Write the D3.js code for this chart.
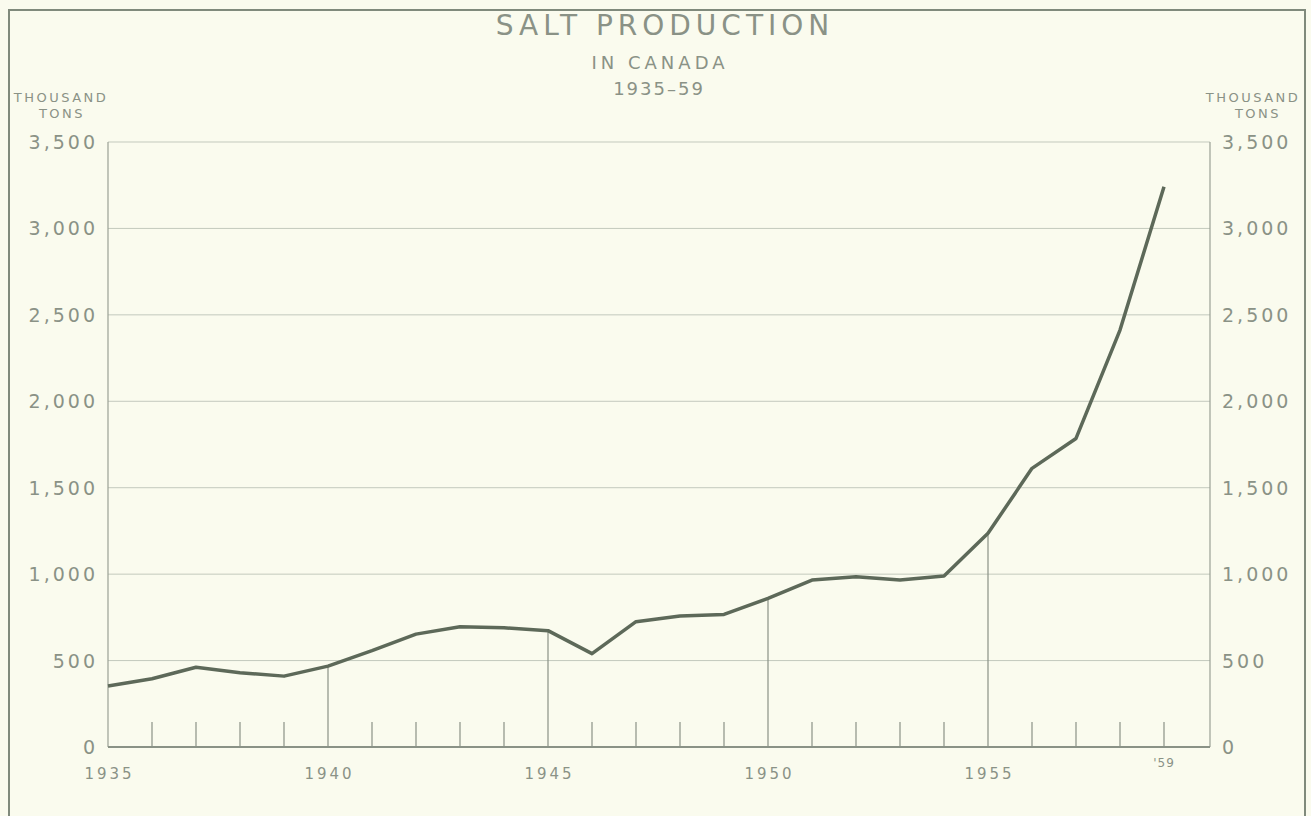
<!DOCTYPE html>
<html>
<head>
<meta charset="utf-8">
<script src="https://cdnjs.cloudflare.com/ajax/libs/d3/7.9.0/d3.min.js"></script>
<style>
  html, body { margin: 0; padding: 0; background: #fafbee; }
  svg { display: block; }
  text { font-family: "DejaVu Sans", sans-serif; fill: #8a9286; }
</style>
</head>
<body>
<div id="chart"></div>
<script>
// ---- Data ----
const years = [1935, 1936, 1937, 1938, 1939, 1940, 1941, 1942, 1943, 1944, 1945, 1946,
  1947, 1948, 1949, 1950, 1951, 1952, 1953, 1954, 1955, 1956, 1957, 1958, 1959];
const production = [353, 395, 461, 430, 410, 468, 557, 653, 696, 690, 673, 540,
  725, 758, 767, 860, 966, 985, 966, 989, 1236, 1612, 1785, 2412, 3241];
const yTicks = [0, 500, 1000, 1500, 2000, 2500, 3000, 3500];
const xLabelYears = [1935, 1940, 1945, 1950, 1955];

const W = 1311, H = 816;
const plotL = 108, plotR = 1210, plotT = 142, plotB = 747;

const svg = d3.select('#chart').append('svg')
  .attr('width', W).attr('height', H);

svg.append('rect').attr('width', W).attr('height', H).attr('fill', '#fafbee');

// outer frame (bottom edge runs off the page)
svg.append('path')
  .attr('d', `M9,${H + 5} V10 H1305 V${H + 5}`)
  .attr('fill', 'none').attr('stroke', '#808a7c').attr('stroke-width', 2);

// ---- Scales ----
const x = d3.scaleLinear().domain([1935, 1959]).range([plotL, plotL + 24 * 44]);
const y = d3.scaleLinear().domain([0, 3500]).range([plotB, plotT]);

// gridlines
svg.append('g').selectAll('line')
  .data(yTicks.filter(d => d > 0))
  .join('line')
  .attr('x1', plotL).attr('x2', plotR)
  .attr('y1', d => y(d)).attr('y2', d => y(d))
  .attr('stroke', '#c3c9bd').attr('stroke-width', 1);

// left / right axis lines
svg.append('line').attr('x1', plotL).attr('x2', plotL).attr('y1', plotT).attr('y2', plotB)
  .attr('stroke', '#9aa195').attr('stroke-width', 1.2);
svg.append('line').attr('x1', plotR).attr('x2', plotR).attr('y1', plotT).attr('y2', plotB)
  .attr('stroke', '#9aa195').attr('stroke-width', 1.2);

// minor year ticks
svg.append('g').selectAll('line')
  .data(years.filter(d => d % 5 !== 0))
  .join('line')
  .attr('x1', d => x(d)).attr('x2', d => x(d))
  .attr('y1', plotB).attr('y2', plotB - 25)
  .attr('stroke', '#8a9286').attr('stroke-width', 1.2);

// 5-year drop lines up to the curve
svg.append('g').selectAll('line')
  .data(xLabelYears.filter(d => d > 1935))
  .join('line')
  .attr('x1', d => x(d)).attr('x2', d => x(d))
  .attr('y1', plotB).attr('y2', d => y(production[years.indexOf(d)]))
  .attr('stroke', '#8a9286').attr('stroke-width', 1.2);

// baseline
svg.append('line').attr('x1', plotL).attr('x2', plotR).attr('y1', plotB).attr('y2', plotB)
  .attr('stroke', '#8a9286').attr('stroke-width', 2);

// ---- Line ----
const line = d3.line().x((d, i) => x(years[i])).y(d => y(d));
svg.append('path')
  .datum(production)
  .attr('d', line)
  .attr('fill', 'none')
  .attr('stroke', '#5d6959')
  .attr('stroke-width', 3.5)
  .attr('stroke-linejoin', 'round');

// ---- Axis labels ----
const fmt = d3.format(',');
svg.append('g').selectAll('text')
  .data(yTicks)
  .join('text')
  .attr('x', plotL - 10).attr('y', d => y(d) + 7)
  .attr('text-anchor', 'end')
  .attr('font-size', 19).attr('letter-spacing', 3)
  .text(d => fmt(d));

svg.append('g').selectAll('text')
  .data(yTicks)
  .join('text')
  .attr('x', plotR + 12).attr('y', d => y(d) + 7)
  .attr('font-size', 19).attr('letter-spacing', 3)
  .text(d => fmt(d));

svg.append('g').selectAll('text')
  .data(xLabelYears)
  .join('text')
  .attr('x', d => x(d) + 1.5).attr('y', 779)
  .attr('text-anchor', 'middle')
  .attr('font-size', 15).attr('letter-spacing', 3)
  .text(d => d);

svg.append('text')
  .attr('x', x(1959)).attr('y', 767)
  .attr('text-anchor', 'middle')
  .attr('font-size', 12).attr('letter-spacing', 1)
  .text("'59");

// unit labels
[[61, 'THOUSAND', 102], [62, 'TONS', 118], [1253, 'THOUSAND', 102], [1258, 'TONS', 118]]
  .forEach(([cx, t, ty]) => {
    svg.append('text').attr('x', cx).attr('y', ty)
      .attr('text-anchor', 'middle').attr('font-size', 13).attr('letter-spacing', 2.5)
      .text(t);
  });

// ---- Titles ----
svg.append('text').attr('x', 665).attr('y', 35)
  .attr('text-anchor', 'middle').attr('font-size', 28).attr('letter-spacing', 5)
  .text('SALT PRODUCTION');
svg.append('text').attr('x', 660).attr('y', 69)
  .attr('text-anchor', 'middle').attr('font-size', 18).attr('letter-spacing', 4)
  .text('IN CANADA');
svg.append('text').attr('x', 659).attr('y', 95)
  .attr('text-anchor', 'middle').attr('font-size', 18).attr('letter-spacing', 2)
  .text('1935–59');
</script>
</body>
</html>
